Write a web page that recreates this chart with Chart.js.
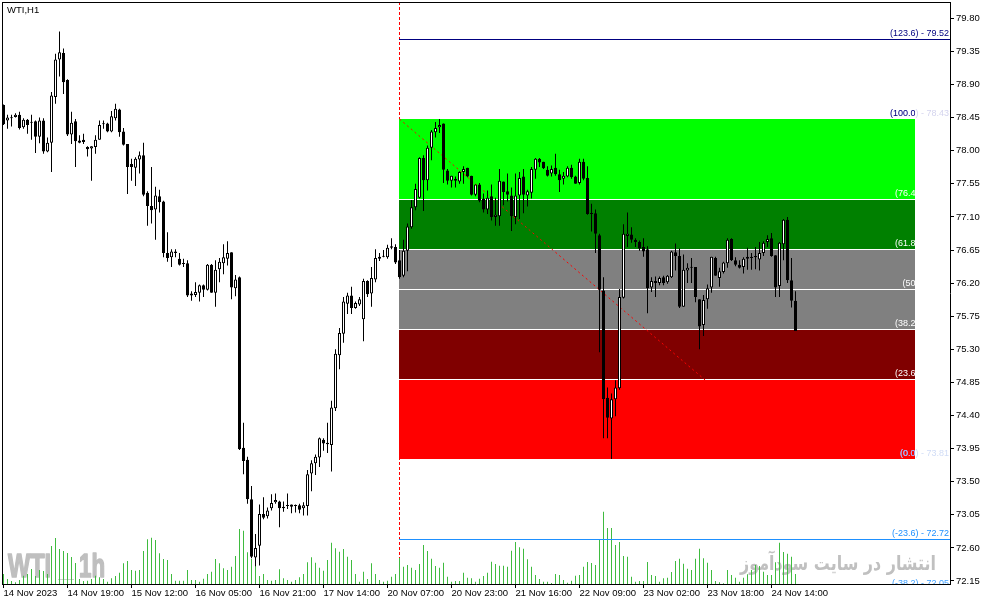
<!DOCTYPE html>
<html>
<head>
<meta charset="utf-8">
<script src="https://cdn.jsdelivr.net/npm/chart.js@4.4.1/dist/chart.umd.min.js"></script>
<style>
  html, body { margin: 0; padding: 0; background: #fff; overflow: hidden; }
  canvas { display: block; }
</style>
</head>
<body>
<canvas id="wti-chart" width="991" height="605"></canvas>
<script>
// WTI H1 candles (bar 0 = first visible bar)
const OPEN = [
  78.62,78.41,78.45,78.46,78.49,78.32,78.42,78.39,78.40,78.19,
  78.41,77.99,78.11,78.73,79.24,79.33,78.96,78.22,78.40,78.14,
  78.15,78.05,78.03,78.05,78.15,78.37,78.37,78.26,78.44,78.56,
  78.26,78.09,77.82,77.77,77.88,77.94,77.43,77.25,77.20,77.38,
  77.31,76.61,76.55,76.63,76.53,76.47,76.47,76.06,76.04,76.07,
  76.17,76.11,76.45,76.07,76.39,76.47,76.53,76.62,76.13,76.28,
  73.96,73.80,73.26,72.47,72.63,73.06,73.03,73.14,73.22,73.23,
  73.16,73.17,73.19,73.17,73.18,73.14,73.17,73.61,73.75,73.83,
  74.07,74.03,74.00,74.50,75.22,75.51,75.92,76.03,75.86,75.91,
  75.71,76.23,76.06,76.25,76.53,76.56,76.55,76.70,76.69,76.51,
  76.30,76.64,76.96,77.23,77.36,77.90,77.60,78.04,78.25,78.32,
  78.37,77.73,77.59,77.62,77.58,77.71,77.77,77.66,77.40,77.54,
  77.35,77.20,77.38,77.10,77.11,77.58,77.45,77.39,77.10,77.39,
  77.65,77.39,77.43,77.74,77.89,77.85,77.74,77.69,77.77,77.68,
  77.62,77.65,77.77,77.65,77.56,77.85,77.63,77.15,77.15,76.85,
  76.10,74.64,74.36,74.62,74.77,76.00,76.84,76.86,76.79,76.76,
  76.69,76.66,76.14,76.23,76.20,76.28,76.21,76.28,76.62,76.57,
  75.88,76.37,76.42,76.42,75.98,75.63,75.98,76.14,76.54,76.27,
  76.35,76.47,76.80,76.51,76.45,76.42,76.53,76.56,76.57,76.52,
  76.61,76.76,76.81,76.58,76.16,76.73,77.06,76.24,75.96
];
const HIGH = [
  78.63,78.49,78.49,78.51,78.53,78.44,78.43,78.49,78.41,78.45,
  78.44,78.18,78.80,79.32,79.62,79.39,78.97,78.53,78.43,78.21,
  78.23,78.06,78.06,78.21,78.41,78.41,78.38,78.54,78.64,78.57,
  78.31,78.09,77.89,77.91,77.99,78.11,77.45,77.78,77.51,77.47,
  77.32,76.89,76.66,76.66,76.61,76.53,76.51,76.09,76.21,76.18,
  76.18,76.46,76.46,76.51,76.54,76.73,76.77,76.62,76.31,76.29,
  74.30,73.84,73.44,72.79,73.19,73.29,73.15,73.33,73.34,73.24,
  73.23,73.34,73.19,73.19,73.20,73.22,73.66,73.79,73.87,74.10,
  74.09,74.30,74.60,75.30,75.59,76.01,76.07,76.15,75.95,76.01,
  76.26,76.24,76.42,76.66,76.61,76.65,76.72,76.81,76.73,76.65,
  76.79,77.01,77.33,77.55,77.91,77.94,78.07,78.28,78.39,78.43,
  78.37,77.75,77.66,77.65,77.72,77.79,77.77,77.66,77.54,77.56,
  77.42,77.46,77.54,77.36,77.75,77.58,77.69,77.50,77.69,77.71,
  77.75,77.47,77.78,77.90,77.90,77.85,77.79,77.80,77.96,77.74,
  77.71,77.79,77.81,77.66,77.89,77.89,77.79,77.28,77.20,76.87,
  76.28,74.78,74.70,74.88,76.12,77.00,77.16,76.96,76.81,76.78,
  76.81,76.70,76.28,76.29,76.29,76.30,76.31,76.64,76.74,76.67,
  76.59,76.47,76.54,76.42,75.98,76.04,76.18,76.56,76.56,76.41,
  76.49,76.81,76.81,76.55,76.51,76.55,76.68,76.61,76.69,76.76,
  76.77,76.85,76.88,76.58,76.76,77.07,77.10,76.54,76.09
];
const LOW = [
  78.35,78.30,78.33,78.45,78.29,78.30,78.23,78.15,77.97,78.10,
  77.96,77.98,77.71,78.64,79.01,78.77,78.20,78.09,77.78,78.10,
  78.09,77.92,77.59,77.96,78.15,78.30,78.25,78.25,78.41,78.19,
  78.07,77.41,77.59,77.52,77.69,77.38,76.98,77.01,76.79,77.16,
  76.55,76.49,76.42,76.55,76.44,76.42,76.01,75.96,76.01,75.95,
  76.01,76.10,76.07,75.88,76.21,76.32,76.44,75.98,76.02,73.93,
  73.60,73.20,72.46,72.35,72.36,72.99,73.00,73.11,73.20,72.88,
  73.09,73.13,73.07,73.08,73.07,73.04,73.04,73.37,73.59,73.70,
  73.92,73.89,73.64,74.46,75.03,75.39,75.78,75.78,75.85,75.89,
  75.41,76.01,75.88,76.21,76.50,76.55,76.53,76.66,76.46,76.26,
  76.28,76.36,76.94,77.19,77.35,77.18,77.46,77.87,78.18,78.24,
  77.56,77.54,77.50,77.50,77.55,77.55,77.64,77.39,77.38,77.30,
  77.16,77.14,77.05,76.98,76.98,77.26,77.31,76.91,77.00,77.07,
  77.15,77.24,77.35,77.62,77.78,77.75,77.65,77.65,77.66,77.44,
  77.54,77.64,77.62,77.55,77.54,77.60,77.13,76.90,76.61,75.26,
  74.09,74.09,73.81,74.39,74.75,75.99,76.69,76.75,76.69,76.64,
  76.56,75.79,76.08,76.01,76.17,76.17,76.19,76.27,76.37,75.86,
  75.88,76.20,76.20,75.94,75.30,75.48,75.85,76.07,76.30,76.15,
  76.33,76.41,76.50,76.43,76.40,76.33,76.38,76.38,76.39,76.37,
  76.57,76.69,76.56,76.01,76.01,76.51,76.20,75.87,75.55
];
const CLOSE = [
  78.36,78.45,78.44,78.49,78.31,78.42,78.35,78.38,78.19,78.41,
  77.99,78.11,78.75,79.24,79.34,78.93,78.22,78.38,78.13,78.11,
  78.12,78.02,78.06,78.15,78.35,78.36,78.26,78.47,78.57,78.25,
  78.08,77.78,77.78,77.89,77.94,77.40,77.25,77.19,77.39,77.30,
  76.61,76.54,76.63,76.61,76.45,76.46,76.03,76.03,76.08,76.17,
  76.11,76.45,76.07,76.38,76.49,76.55,76.61,76.14,76.25,73.94,
  73.78,73.26,72.48,72.60,73.06,73.01,73.11,73.21,73.25,73.14,
  73.14,73.18,73.16,73.17,73.12,73.18,73.60,73.75,73.84,74.09,
  74.02,74.01,74.51,75.24,75.52,75.95,76.03,75.86,75.93,75.98,
  76.23,76.05,76.27,76.54,76.56,76.57,76.68,76.68,76.48,76.28,
  76.64,76.97,77.23,77.48,77.90,77.60,78.04,78.26,78.31,78.35,
  77.74,77.59,77.66,77.59,77.71,77.75,77.65,77.40,77.54,77.32,
  77.20,77.36,77.10,77.13,77.59,77.44,77.40,77.11,77.39,77.63,
  77.40,77.45,77.75,77.89,77.84,77.76,77.66,77.75,77.68,77.60,
  77.66,77.77,77.64,77.55,77.85,77.62,77.14,77.14,76.87,76.11,
  74.62,74.37,74.62,74.78,76.01,76.87,76.87,76.79,76.76,76.67,
  76.63,76.13,76.23,76.20,76.27,76.20,76.30,76.63,76.57,75.88,
  76.38,76.41,76.41,76.01,75.61,75.97,76.13,76.56,76.30,76.36,
  76.48,76.79,76.51,76.45,76.41,76.53,76.56,76.54,76.55,76.61,
  76.75,76.80,76.57,76.14,76.75,77.06,76.24,75.96,75.55
];
const VOLUME = [
  1500,750,450,260,600,1250,1500,2250,1200,2100,
  1950,1500,5700,6900,5250,4950,4650,4050,3150,750,
  450,500,750,1250,1000,750,350,850,1200,1700,
  3100,3450,2100,2000,2100,4950,6700,6950,6600,4600,
  3750,3600,1500,500,500,500,2100,600,600,350,
  800,1500,1850,3750,3100,2350,2100,2600,4200,8250,
  8000,4750,3750,3000,1200,1500,600,500,600,2200,
  850,600,350,600,1000,1500,3250,4000,3200,2450,
  2000,3600,6200,5350,4850,5250,4100,3600,1500,350,
  1850,750,3100,1500,600,350,500,1100,1500,3900,
  2600,2850,2450,2100,3000,5850,4950,3800,2700,2450,
  3200,1100,350,450,450,1700,950,850,350,800,
  1200,1700,3350,3000,2750,2750,2600,5000,6300,5500,
  5300,3700,2600,1350,750,350,350,150,1500,1350,
  600,200,500,1250,1350,2600,3300,3150,2850,6650,
  10850,8400,8400,5850,6300,4200,4100,1100,350,450,
  450,3300,1350,1200,350,850,950,1800,3450,3800,
  3050,2300,2100,3800,5300,3850,3200,2100,450,250,
  100,2100,1350,950,350,950,1450,2100,2850,2700,
  1850,1350,1350,3250,6200,4800,4550,4100,1500
];

// time axis labels (every 16 bars)
const X_TICK_BARS = [0, 16, 32, 48, 64, 80, 96, 112, 128, 144, 160, 176, 192];
const X_TICK_LABELS = ['14 Nov 2023', '14 Nov 19:00', '15 Nov 12:00', '16 Nov 05:00', '16 Nov 21:00',
  '17 Nov 14:00', '20 Nov 07:00', '20 Nov 23:00', '21 Nov 16:00', '22 Nov 09:00',
  '23 Nov 02:00', '23 Nov 18:00', '24 Nov 14:00'];
const Y_TICKS = [72.15, 72.60, 73.05, 73.50, 73.95, 74.40, 74.85, 75.30, 75.75,
  76.20, 76.65, 77.10, 77.55, 78.00, 78.45, 78.90, 79.35, 79.80];

// fibonacci retracement object
const FIB_HIGH = 78.43;
const FIB_LOW = 73.81;
const FIB_START_BAR = 99;
const FIB_ZONE_END_BAR = 228;
const FIB_TREND_END_BAR = 198.5;
const FIB_LEVELS = [123.6, 100, 76.4, 61.8, 50, 38.2, 23.6, 0, -23.6, -38.2];
const FIB_TAGS = ['(123.6)', '(100.0)', '(76.4)', '(61.8)', '(50)', '(38.2)', '(23.6)', '(0.0)', '(-23.6)', '(-38.2)'];
const ZONE_LEVELS = [100, 76.4, 61.8, 50, 38.2, 23.6, 0];
const ZONE_COLORS = ['#00ff00', '#008000', '#808080', '#808080', '#800000', '#ff0000'];
const RAY_LEVELS = [123.6, -23.6, -38.2];
const RAY_COLORS = ['#000080', '#1e90ff', '#1e90ff'];
const LABEL_COLORS = ['#000080', '#000080', '#ffffff', '#ffffff', '#ffffff', '#ffffff', '#ffffff', '#90a8ff', '#1e90ff', '#3fa0ff'];
const LABEL_TAILS = [null, '#d4d4ee', null, null, null, null, null, '#d0dcf6', null, null];

const fibPrice = lvl => FIB_LOW + (FIB_HIGH - FIB_LOW) * lvl / 100;
const FONT = '"Liberation Sans", Arial, sans-serif';

function clipArea(ctx, a) {
  ctx.beginPath();
  ctx.rect(a.left, a.top, a.right - a.left, a.bottom - a.top);
  ctx.clip();
}

// fill text squeezed to a given width, thickened a little like the terminal watermark
function fitText(ctx, txt, x, y, width, thick) {
  const w = ctx.measureText(txt).width;
  ctx.save();
  ctx.translate(x, y);
  ctx.scale(width / w, 1);
  ctx.fillText(txt, 0, 0);
  if (thick) {
    ctx.lineWidth = thick;
    ctx.lineJoin = 'round';
    ctx.strokeText(txt, 0, 0);
  }
  ctx.restore();
}

function drawWatermarks(ctx, a) {
  ctx.save();
  ctx.fillStyle = '#bfbfbf';
  ctx.strokeStyle = '#bfbfbf';
  ctx.textBaseline = 'alphabetic';
  ctx.font = 'bold 34px ' + FONT;
  const base = a.bottom - 7;
  fitText(ctx, 'WTI', a.left + 6, base, 43, 1.6);
  fitText(ctx, '1h', a.left + 77, base, 26, 1.6);
  ctx.fillStyle = '#cfcfcf';
  ctx.fillRect(a.left + 56, base + 2, 16, 1);

  ctx.fillStyle = '#c0c0c0';
  ctx.font = 'bold 20px "DejaVu Sans"';
  ctx.textAlign = 'right';
  fitText(ctx, 'انتشار در سایت سودآموز', a.right - 14, a.bottom - 14, 196, 0);
  ctx.restore();
}

const fiboPlugin = {
  id: 'fibo',
  beforeDatasetsDraw(chart) {
    const {ctx, chartArea: a, scales: {x, y}} = chart;
    ctx.save();
    clipArea(ctx, a);
    drawWatermarks(ctx, a);

    // dotted vertical marker
    const vx = x.getPixelForValue(FIB_START_BAR);
    ctx.strokeStyle = '#ff0000';
    ctx.lineWidth = 1;
    ctx.setLineDash([3, 2]);
    ctx.beginPath();
    ctx.moveTo(vx, a.top);
    ctx.lineTo(vx, a.bottom);
    ctx.stroke();
    ctx.setLineDash([]);

    const x0 = Math.round(x.getPixelForValue(FIB_START_BAR) - 0.5);
    const x1 = Math.round(x.getPixelForValue(FIB_ZONE_END_BAR) - 0.5);
    for (let k = 0; k < ZONE_COLORS.length; k++) {
      const yTop = Math.round(y.getPixelForValue(fibPrice(ZONE_LEVELS[k])));
      const yBot = Math.round(y.getPixelForValue(fibPrice(ZONE_LEVELS[k + 1])));
      ctx.fillStyle = ZONE_COLORS[k];
      ctx.fillRect(x0, yTop, x1 - x0, yBot - yTop);
    }
    ctx.fillStyle = '#ffffff';
    for (let k = 1; k < ZONE_LEVELS.length - 1; k++) {
      const yl = Math.round(y.getPixelForValue(fibPrice(ZONE_LEVELS[k])));
      ctx.fillRect(x0, yl, x1 - x0, 1);
    }

    // trend line of the fibo object
    ctx.strokeStyle = '#ff0000';
    ctx.setLineDash([2, 3]);
    ctx.beginPath();
    ctx.moveTo(x.getPixelForValue(FIB_START_BAR), y.getPixelForValue(FIB_HIGH));
    ctx.lineTo(x.getPixelForValue(FIB_TREND_END_BAR), y.getPixelForValue(FIB_LOW));
    ctx.stroke();
    ctx.restore();
  },
  afterDatasetsDraw(chart) {
    const {ctx, chartArea: a, scales: {x, y}} = chart;
    ctx.save();
    clipArea(ctx, a);
    const xs = Math.round(x.getPixelForValue(FIB_START_BAR) - 0.5);
    RAY_LEVELS.forEach((lvl, k) => {
      const yl = Math.round(y.getPixelForValue(fibPrice(lvl)));
      ctx.fillStyle = RAY_COLORS[k];
      ctx.fillRect(xs, yl, a.right - xs, 1);
    });

    const xz = Math.round(x.getPixelForValue(FIB_ZONE_END_BAR) - 0.5);
    ctx.font = '9px ' + FONT;
    ctx.textAlign = 'right';
    ctx.textBaseline = 'alphabetic';
    FIB_LEVELS.forEach((lvl, k) => {
      const p = fibPrice(lvl);
      const txt = FIB_TAGS[k] + ' - ' + p.toFixed(2);
      const ty = Math.round(y.getPixelForValue(p)) - 3;
      const tx = a.right - 1;
      if (LABEL_TAILS[k]) {
        ctx.fillStyle = LABEL_TAILS[k];
        ctx.fillText(txt, tx, ty);
        ctx.save();
        ctx.beginPath();
        ctx.rect(a.left, a.top, xz - a.left, a.bottom - a.top);
        ctx.clip();
        ctx.fillStyle = LABEL_COLORS[k];
        ctx.fillText(txt, tx, ty);
        ctx.restore();
      } else {
        ctx.fillStyle = LABEL_COLORS[k];
        ctx.fillText(txt, tx, ty);
      }
    });
    ctx.restore();
  },
  afterDraw(chart) {
    const {ctx, chartArea: a} = chart;
    ctx.save();
    ctx.fillStyle = '#000';
    ctx.fillRect(a.left, a.top, 1, a.bottom - a.top);
    ctx.fillRect(a.left, a.top, a.right - a.left, 1);
    ctx.font = '9.5px ' + FONT;
    ctx.textBaseline = 'top';
    ctx.fillText('WTI,H1', a.left + 5, a.top + 4);
    ctx.restore();
  }
};

const bars = OPEN.map((_, i) => i);
const resetPadding = s => { s.paddingTop = 0; s.paddingBottom = 0; s.paddingLeft = 0; s.paddingRight = 0; };

const data = {
  datasets: [
    {
      label: 'body',
      data: bars.map(i => ({x: i, y: [OPEN[i], CLOSE[i]]})),
      backgroundColor: c => (CLOSE[c.dataIndex] >= OPEN[c.dataIndex] ? '#ffffff' : '#000000'),
      borderColor: '#000000',
      borderWidth: 1,
      borderSkipped: false,
      barThickness: 3,
      minBarLength: 1,
      inflateAmount: 0,
      grouped: false,
      order: 1
    },
    {
      label: 'wick',
      data: bars.map(i => ({x: i, y: [LOW[i], HIGH[i]]})),
      backgroundColor: '#000000',
      borderWidth: 0,
      barThickness: 1,
      inflateAmount: 0,
      grouped: false,
      order: 2
    },
    {
      label: 'volume',
      data: bars.map(i => ({x: i, y: VOLUME[i]})),
      backgroundColor: '#3fbb3f',
      borderWidth: 0,
      barThickness: 1,
      inflateAmount: 0,
      grouped: false,
      yAxisID: 'yv',
      order: 3
    }
  ]
};

const options = {
  responsive: false,
  devicePixelRatio: 1,
  animation: false,
  events: [],
  layout: { padding: { left: 2, top: 2, right: 0, bottom: 0 } },
  plugins: { legend: { display: false }, tooltip: { enabled: false } },
  scales: {
    x: {
      type: 'linear',
      min: -0.375,
      max: 236.625,
      offset: false,
      afterBuildTicks: s => { s.ticks = X_TICK_BARS.map(v => ({value: v})); },
      afterFit: s => { s.height = 21; resetPadding(s); },
      ticks: {
        callback: (v, i) => X_TICK_LABELS[i],
        align: 'start',
        autoSkip: false,
        maxRotation: 0,
        minRotation: 0,
        padding: 0,
        color: '#000',
        font: { family: FONT, size: 9.5 }
      },
      grid: { drawOnChartArea: false, offset: false, tickLength: 4, color: '#000' },
      border: { display: true, color: '#000' }
    },
    y: {
      position: 'right',
      min: 72.109,
      max: 80.022,
      afterBuildTicks: s => { s.ticks = Y_TICKS.map(v => ({value: v})); },
      afterFit: s => { s.width = 41; resetPadding(s); },
      ticks: {
        callback: v => Number(v).toFixed(2),
        autoSkip: false,
        padding: 2,
        color: '#000',
        font: { family: FONT, size: 9.5 }
      },
      grid: { drawOnChartArea: false, tickLength: 4, color: '#000' },
      border: { display: true, color: '#000' }
    },
    yv: {
      display: false,
      min: 0,
      max: 87300
    }
  }
};

const ctx = document.getElementById('wti-chart').getContext('2d');
const wtiChart = new Chart(ctx, {
  type: 'bar',
  data: data,
  options: options,
  plugins: [fiboPlugin]
});
</script>
</body>
</html>
